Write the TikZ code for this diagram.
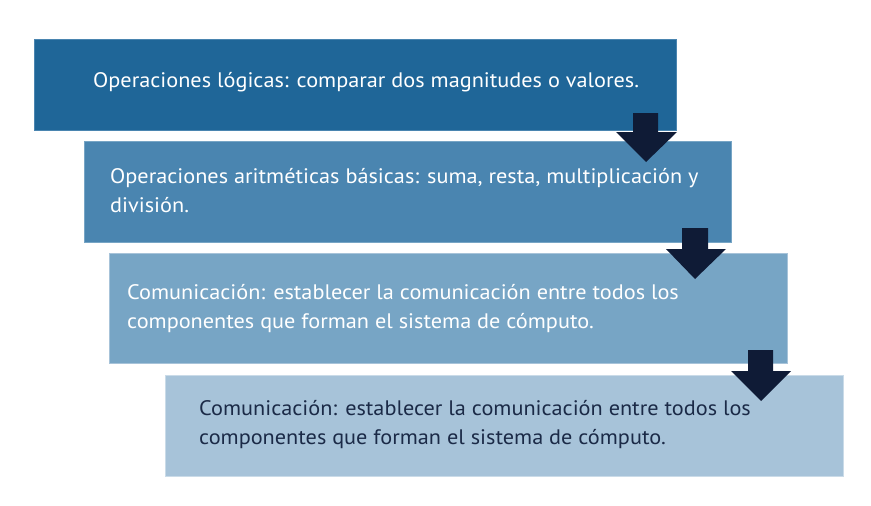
\documentclass[tikz,border=0pt]{standalone}
\usepackage{fontspec}
\setmainfont{PT Sans}[FakeStretch=1.06]
\definecolor{bA}{HTML}{1F6698}
\definecolor{bB}{HTML}{4A85B0}
\definecolor{bC}{HTML}{77A5C5}
\definecolor{bD}{HTML}{A7C3D9}
\definecolor{arr}{HTML}{0F1B36}
\definecolor{txtdark}{HTML}{1B2A47}
\newcommand{\twolines}[2]{\vtop{\baselineskip=29pt\hbox{#1}\hbox{#2}}}
\begin{document}
\begin{tikzpicture}[x=1pt,y=-1pt,
  box/.style={line width=0.8pt},
  lbl/.style={anchor=base west,inner sep=0pt,font=\fontsize{21}{29}\selectfont},
  blockarrow/.style={fill=arr}]
\useasboundingbox (0,0) rectangle (871,506);
\draw[box,fill=bA,draw=bB] (34,39) rectangle (676,130);
\draw[box,fill=bB,draw=bC] (84,141) rectangle (731,242);
\draw[box,fill=bC,draw=bD] (109,253) rectangle (787,363);
\draw[box,fill=bD,draw=bD!60!white] (165,375) rectangle (843,476);
\node[lbl,text=white] (t1) at (93,87) {Operaciones lógicas: comparar dos magnitudes o valores.};
\node[lbl,text=white] (t2) at (110,183) {\twolines{Operaciones aritméticas básicas: suma, resta, multiplicación y}{división.}};
\node[lbl,text=white] (t3) at (127,299) {\twolines{Comunicación: establecer la comunicación entre todos los}{componentes que forman el sistema de cómputo.}};
\node[lbl,text=txtdark] (t4) at (199,415) {\twolines{Comunicación: establecer la comunicación entre todos los}{componentes que forman el sistema de cómputo.}};
\fill[blockarrow] (633,113) -- (658,113) -- (658,132) -- (677,132) -- (646,162) -- (616,132) -- (633,132) -- cycle;
\fill[blockarrow] (682,228) -- (708,228) -- (708,249) -- (726,249) -- (695,279) -- (666,249) -- (682,249) -- cycle;
\fill[blockarrow] (748,350) -- (773,350) -- (773,371) -- (791,371) -- (761,401) -- (731,371) -- (748,371) -- cycle;
\end{tikzpicture}
\end{document}
